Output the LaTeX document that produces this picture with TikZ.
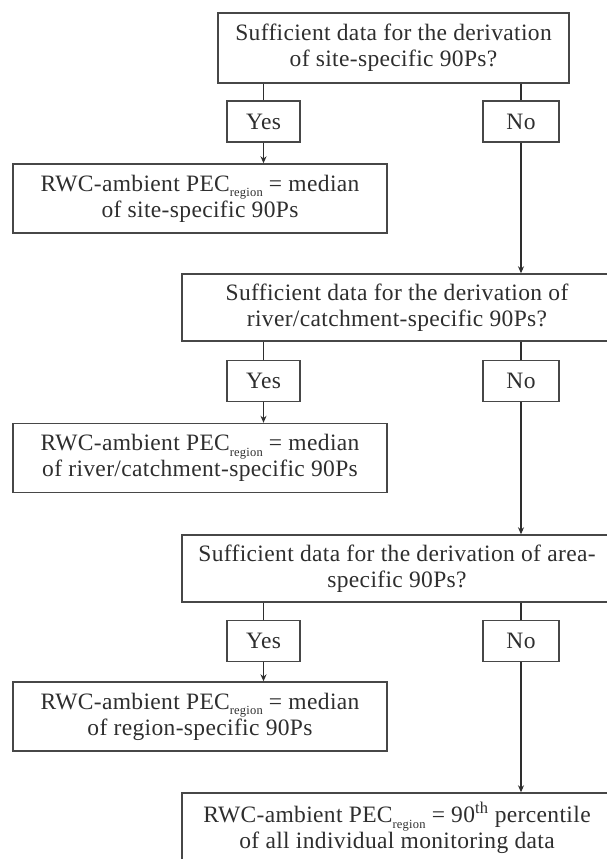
\documentclass[tikz,border=0pt]{standalone}
\usepackage{fontspec}
\setmainfont[LetterSpace=1.5]{Liberation Serif}
\usetikzlibrary{arrows.meta}
\newcommand{\regsub}{\raisebox{-0.5ex}{\fontsize{12.5}{12.5}\selectfont region}}
\begin{document}
\begin{tikzpicture}[x=1pt,y=-1pt,
  box/.style={draw=black!72, line width=1.4pt, fill=white, text=black!82, align=center, inner sep=0pt,
    font=\fontsize{23.5}{26}\selectfont},
  qbox/.style={box, minimum width=351pt, minimum height=70pt},
  wbox/.style={box, minimum width=430pt, minimum height=67pt},
  ynbox/.style={box, minimum height=41pt},
  rbox/.style={box, minimum width=374pt, minimum height=69pt},
  conn/.style={draw=black!82, line width=1.5pt},
  arr/.style={conn, -{Stealth[length=7pt,width=6pt]}}]
\useasboundingbox (0,0) rectangle (607,859);
\clip (0,0) rectangle (607,859);
% level 1
\node[qbox] (q1) at (393.5,48) {Sufficient data for the derivation\\of site-specific 90Ps?};
\node[ynbox, minimum width=73pt] (y1) at (263.5,121.5) {Yes};
\node[ynbox, minimum width=76pt] (n1) at (521,121.5) {No};
\node[rbox] (r1) at (200,198.5) {RWC-ambient PEC\regsub\ = median\\of site-specific 90Ps};
% level 2
\node[wbox] (q2) at (397,307.5) {Sufficient data for the derivation of\\river/catchment-specific 90Ps?};
\node[ynbox, minimum width=73pt] (y2) at (263.5,381) {Yes};
\node[ynbox, minimum width=76pt] (n2) at (521,381) {No};
\node[rbox] (r2) at (200,458) {RWC-ambient PEC\regsub\ = median\\of river/catchment-specific 90Ps};
% level 3
\node[wbox] (q3) at (397,568.5) {Sufficient data for the derivation of area-\\specific 90Ps?};
\node[ynbox, minimum width=73pt] (y3) at (263.5,641) {Yes};
\node[ynbox, minimum width=76pt] (n3) at (521,641) {No};
\node[rbox] (r3) at (200,716.5) {RWC-ambient PEC\regsub\ = median\\of region-specific 90Ps};
% final
\node[box, minimum width=430pt, minimum height=70pt] (f) at (397,828) {RWC-ambient PEC\regsub\ = 90\textsuperscript{th} percentile\\of all individual monitoring data};
% connectors
\draw[conn] (q1.south -| y1.north) -- (y1.north);
\draw[conn] (q1.south -| n1.north) -- (n1.north);
\draw[arr] (y1.south) -- (r1.north -| y1.south);
\draw[arr] (n1.south) -- (q2.north -| n1.south);
\draw[conn] (q2.south -| y2.north) -- (y2.north);
\draw[conn] (q2.south -| n2.north) -- (n2.north);
\draw[arr] (y2.south) -- (r2.north -| y2.south);
\draw[arr] (n2.south) -- (q3.north -| n2.south);
\draw[conn] (q3.south -| y3.north) -- (y3.north);
\draw[conn] (q3.south -| n3.north) -- (n3.north);
\draw[arr] (y3.south) -- (r3.north -| y3.south);
\draw[arr] (n3.south) -- (f.north -| n3.south);
\end{tikzpicture}
\end{document}
